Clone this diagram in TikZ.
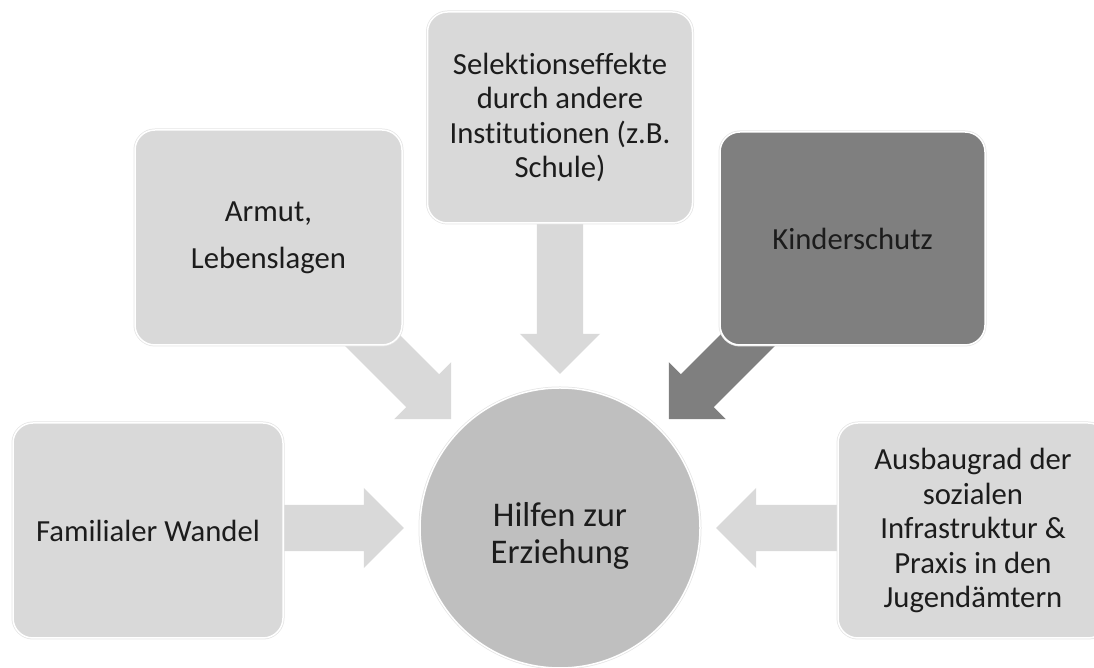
\documentclass[tikz,border=0pt]{standalone}
\usepackage{fontspec}
\setmainfont{Carlito}[Ligatures=NoCommon]
\usetikzlibrary{shapes.arrows,backgrounds,calc}
\definecolor{boxlight}{HTML}{D9D9D9}
\definecolor{boxdark}{HTML}{7F7F7F}
\definecolor{hubgray}{HTML}{BFBFBF}
\definecolor{inktext}{HTML}{1C1C1C}
\tikzset{
  factor/.style={rectangle, rounded corners=20pt, fill=boxlight, draw=white, line width=1.5pt,
    preaction={draw=black!10, line width=3pt}, minimum width=267pt, minimum height=214pt,
    align=center, text=inktext, inner sep=4pt, font=\fontsize{30.7}{34.5}\selectfont},
  hub/.style={circle, fill=hubgray, draw=white, line width=1.5pt,
    preaction={draw=black!10, line width=3pt}, minimum size=280pt,
    align=center, text=inktext, font=\fontsize{34.6}{37}\selectfont},
  push/.style={single arrow, fill=boxlight, draw=none, inner xsep=0pt, inner ysep=23pt,
    single arrow head extend=17pt, single arrow tip angle=90, anchor=tip}
}
\begin{document}
\begin{tikzpicture}[x=1pt, y=1pt]
  \useasboundingbox (0,0) rectangle (1094,668);
  \node[hub] (hilfe) at (560,140) {\rule{0pt}{40pt}Hilfen zur\\Erziehung};
  \node[factor, minimum width=270pt, minimum height=215pt] (familie) at (148,137.5) {Familialer Wandel};
  \node[factor, minimum height=215pt] (armut) at (268.5,430.5) {Armut,\\[12.5pt]Lebenslagen};
  \node[factor, minimum width=265pt, minimum height=211pt] (selektion) at (560,550.5)
    {Selektionseffekte\\durch andere\\Institutionen (z.B.\\Schule)};
  \node[factor, fill=boxdark, minimum width=265pt, minimum height=213pt] (kinderschutz) at (852.5,429.5) {Kinderschutz};
  \node[factor, minimum width=270pt, minimum height=215pt] (ausbau) at (973,137.5)
    {Ausbaugrad der\\sozialen\\Infrastruktur \&\\Praxis in den\\Jugendämtern};
  % block arrows towards the circle
  \begin{scope}[on background layer]
    \node[push, minimum height=125pt] (familiepush) at ($(hilfe.180)+(180:15)$) {};
    \node[push, rotate=-45, minimum height=140pt] (armutpush) at ($(hilfe.135)+(135:13)$) {};
    \node[push, rotate=-90, minimum height=155pt] (selektionpush) at ($(hilfe.90)+(90:13)$) {};
    \node[push, rotate=-135, fill=boxdark, minimum height=140pt] (kinderschutzpush) at ($(hilfe.45)+(45:13)$) {};
    \node[push, rotate=180, minimum height=125pt] (ausbaupush) at ($(hilfe.0)+(0:15)$) {};
  \end{scope}
\end{tikzpicture}
\end{document}
